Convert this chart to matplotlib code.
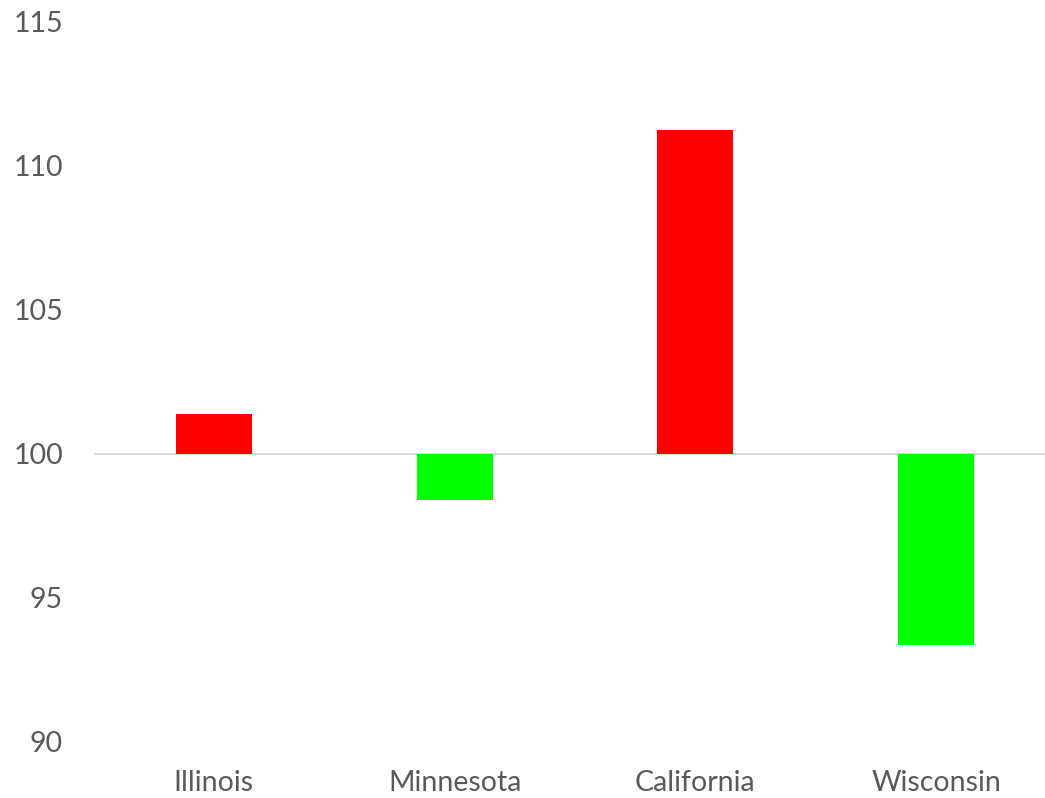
import matplotlib
matplotlib.use("Agg")
import matplotlib.pyplot as plt

# datos (índice base 100)
estados = ["Illinois", "Minnesota", "California", "Wisconsin"]
valores = [101.4, 98.4, 111.25, 93.35]
base = 100

plt.rcParams['font.family'] = ['Lato', 'DejaVu Sans']

fig = plt.figure(figsize=(10.45, 7.98), dpi=100)
ax = fig.add_axes([0.0895, 0.0702, 0.9215, 0.9023])

colores = ["#FF0000" if v >= base else "#00FF00" for v in valores]
alturas = [v - base for v in valores]
ax.bar(range(len(estados)), alturas, bottom=base, width=0.315, color=colores, zorder=2)

ax.axhline(base, color="#D9D9D9", linewidth=1.5, zorder=1)

ax.set_xlim(-0.5, len(estados) - 0.5)
ax.set_ylim(90, 115)
ax.set_yticks([90, 95, 100, 105, 110, 115])
ax.set_xticks(range(len(estados)))
ax.set_xticklabels(estados)

for s in ax.spines.values():
    s.set_visible(False)
ax.tick_params(axis='both', length=0, labelsize=20.5, labelcolor="#595959")
ax.tick_params(axis='y', pad=22)
ax.tick_params(axis='x', pad=20)

fig.savefig("out.png", dpi=100)
